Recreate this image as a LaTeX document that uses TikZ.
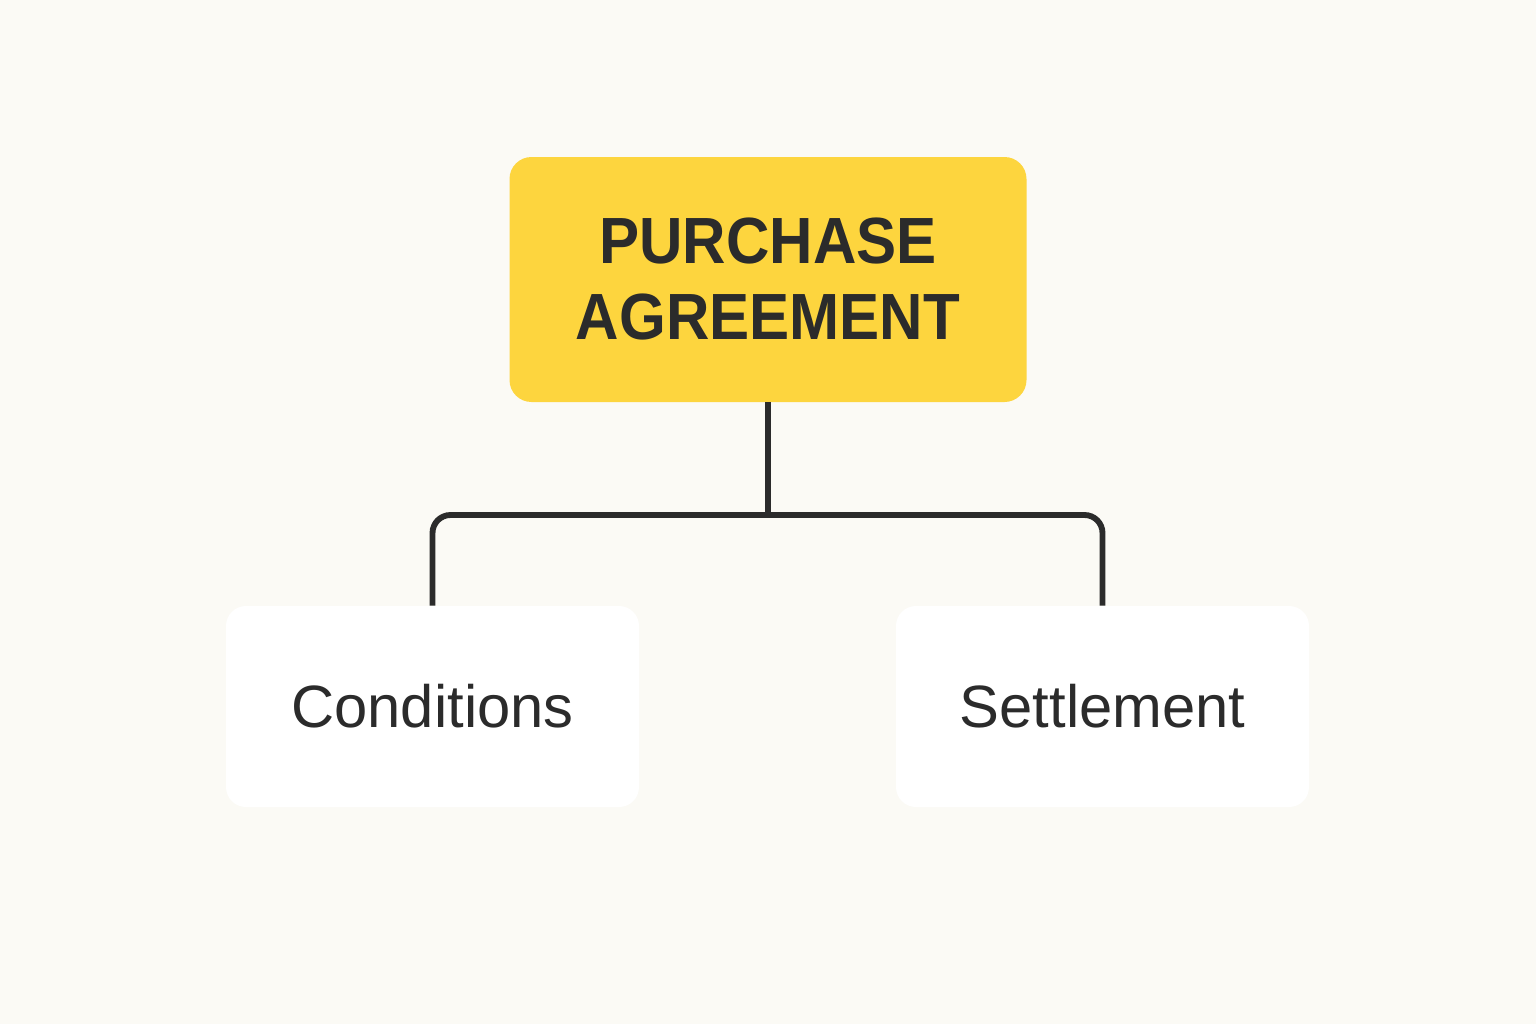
\documentclass[tikz,border=0pt]{standalone}
\usepackage{fontspec}
\setmainfont{Liberation Sans}
\newfontfamily\titlefont[FakeStretch=0.92]{Liberation Sans}
\definecolor{bgc}{HTML}{FBFAF5}
\definecolor{ink}{HTML}{2B2B2B}
\definecolor{gold}{HTML}{FDD53E}
\begin{document}
\begin{tikzpicture}[x=0.75pt,y=-0.75pt,
  titlebox/.style={fill=gold,draw=none,rounded corners=16.5pt,minimum width=387.75pt,minimum height=183.75pt,inner sep=0pt,align=center,text=ink,font=\titlefont\bfseries\fontsize{49}{57}\selectfont},
  leafbox/.style={fill=white,draw=none,rounded corners=15pt,minimum width=309.75pt,minimum height=150.75pt,inner sep=0pt,text=ink,font=\fontsize{44.8}{50}\selectfont},
  link/.style={draw=ink,line width=4.4pt}]
\fill[bgc] (0,0) rectangle (1536,1024);
\useasboundingbox (0,0) rectangle (1536,1024);
\node[titlebox] (top) at (768,279.5) {PURCHASE\\AGREEMENT};
\node[leafbox] (left) at (432.5,706.5) {Conditions};
\node[leafbox] (right) at (1102.5,706.5) {Settlement};
\coordinate (bus) at (768,515);
\draw[link] (top.south) -- (bus);
\draw[link,rounded corners=13.5pt] (bus) -| (left.north);
\draw[link,rounded corners=13.5pt] (bus) -| (right.north);
\end{tikzpicture}
\end{document}
